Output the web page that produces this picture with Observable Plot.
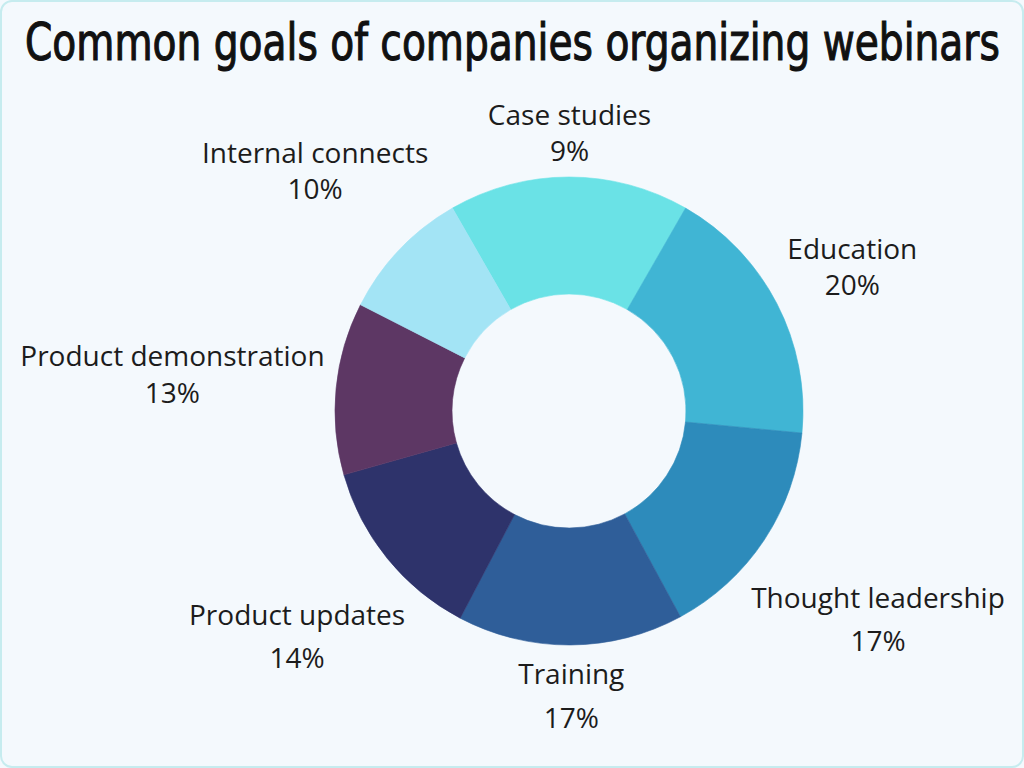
<!DOCTYPE html>
<html>
<head>
<meta charset="utf-8">
<script src="https://cdn.jsdelivr.net/npm/d3@7"></script>
<script src="https://cdn.jsdelivr.net/npm/@observablehq/plot@0.6"></script>
<style>
  html, body { margin: 0; padding: 0; background: #f4f9fd; }
  #page { position: relative; width: 1024px; height: 768px; overflow: hidden; background: #f4f9fd; }
  #frame { position: absolute; left: 0; top: 0; width: 1024px; height: 768px; box-sizing: border-box;
           border: 2px solid #c6ecef; border-radius: 12px; pointer-events: none; }
  #title { display: block; }
  #chart svg { display: block; }
</style>
</head>
<body>
<div id="page">
  <svg id="title" width="1024" height="80"></svg>
  <div id="chart"></div>
  <div id="frame"></div>
</div>
<script>
// ---- data ----
const title = "Common goals of companies organizing webinars";
const categories = ["Case studies", "Education", "Thought leadership", "Training",
                    "Product updates", "Product demonstration", "Internal connects"];
// share of the ring each slice occupies as drawn (%)
const sliceShares = [16.6, 18.2, 15.6, 15.6, 12.9, 11.9, 9.2];
// percentage printed in each label
const labelPercents = [9, 20, 17, 17, 14, 13, 10];
const sliceColors = ["#6ae2e6", "#40b5d4", "#2d8bbb", "#2f5e99", "#2e336b", "#5d3764", "#a3e4f5"];

// ---- title (fitted to the reference width) ----
const tsvg = d3.select("#title");
const tt = tsvg.append("text")
  .attr("x", 0).attr("y", 0)
  .attr("font-family", "'Liberation Sans Narrow', 'DejaVu Sans Condensed', sans-serif")
  .attr("font-size", 52)
  .attr("fill", "#111")
  .attr("stroke", "#111")
  .attr("stroke-width", 1.1)
  .text(title);
const natural = tt.node().getComputedTextLength();
const sx = 975 / natural;
tt.attr("transform", `translate(25,60) scale(${sx},1)`);

// ---- chart ----
const W = 1024, H = 688;
const CX = 569, CY = 331, RPX = 234;  // ring centre and outer radius in pixels
const INNER = 0.5;                      // inner radius as fraction of outer
const FONT = 28, FAMILY = "'Open Sans', 'Noto Sans', sans-serif";
const LINE_UPPER = 1.3, LINE_LOWER = 1.55;

const rows = categories.map((c, i) => ({category: c, share: sliceShares[i], pct: labelPercents[i]}));
const firstAngle = sliceShares[0] / d3.sum(sliceShares) * 2 * Math.PI;
const arcs = d3.pie().sort(null).value(d => d.share)
  .startAngle(-firstAngle / 2).endAngle(2 * Math.PI - firstAngle / 2)(rows);

// measure label widths to push each label just outside the ring
const ctx = document.createElement("canvas").getContext("2d");
ctx.font = `${FONT}px ${FAMILY}`;
const PAD = 10;
const labels = arcs.map(a => {
  const m = (a.startAngle + a.endAngle) / 2;
  const lower = Math.cos(m) < -0.3;
  const lines = [a.data.category, `${a.data.pct}%`];
  const w = d3.max(lines, t => ctx.measureText(t).width);
  const h = FONT * LINE_UPPER * lines.length;
  const dist = 1 + (PAD + w / 2 * Math.abs(Math.sin(m)) + h / 2 * Math.abs(Math.cos(m))) / RPX;
  return {x: dist * Math.sin(m), y: dist * Math.cos(m), text: lines.join("\n"), lower};
});

const color = Plot.scale({color: {type: "ordinal", domain: categories, range: sliceColors}});

const ring = (index, scales) => {
  const x = scales.x, y = scales.y;
  const cx = x(0), cy = y(0);
  const rOut = x(1) - x(0);
  const arcGen = d3.arc().outerRadius(rOut).innerRadius(rOut * INNER);
  const g = d3.create("svg:g").attr("transform", `translate(${cx},${cy})`);
  g.selectAll("path").data(arcs).join("path")
    .attr("d", arcGen)
    .attr("fill", d => color.apply(d.data.category))
    .attr("stroke", d => color.apply(d.data.category))
    .attr("stroke-width", 0.6);
  return g.node();
};

const textOpts = (lh) => ({x: "x", y: "y", text: "text", fontSize: FONT, lineHeight: lh,
  fontFamily: FAMILY, fill: "#1c1c1c"});

const plot = Plot.plot({
  width: W, height: H,
  margin: 0,
  style: {background: "transparent", overflow: "visible"},
  x: {domain: [-1, 1], range: [CX - RPX, CX + RPX], axis: null},
  y: {domain: [-1, 1], range: [CY + RPX, CY - RPX], axis: null},
  marks: [
    ring,
    Plot.text(labels.filter(d => !d.lower), textOpts(LINE_UPPER)),
    Plot.text(labels.filter(d => d.lower), textOpts(LINE_LOWER))
  ]
});
document.getElementById("chart").appendChild(plot);
</script>
</body>
</html>
